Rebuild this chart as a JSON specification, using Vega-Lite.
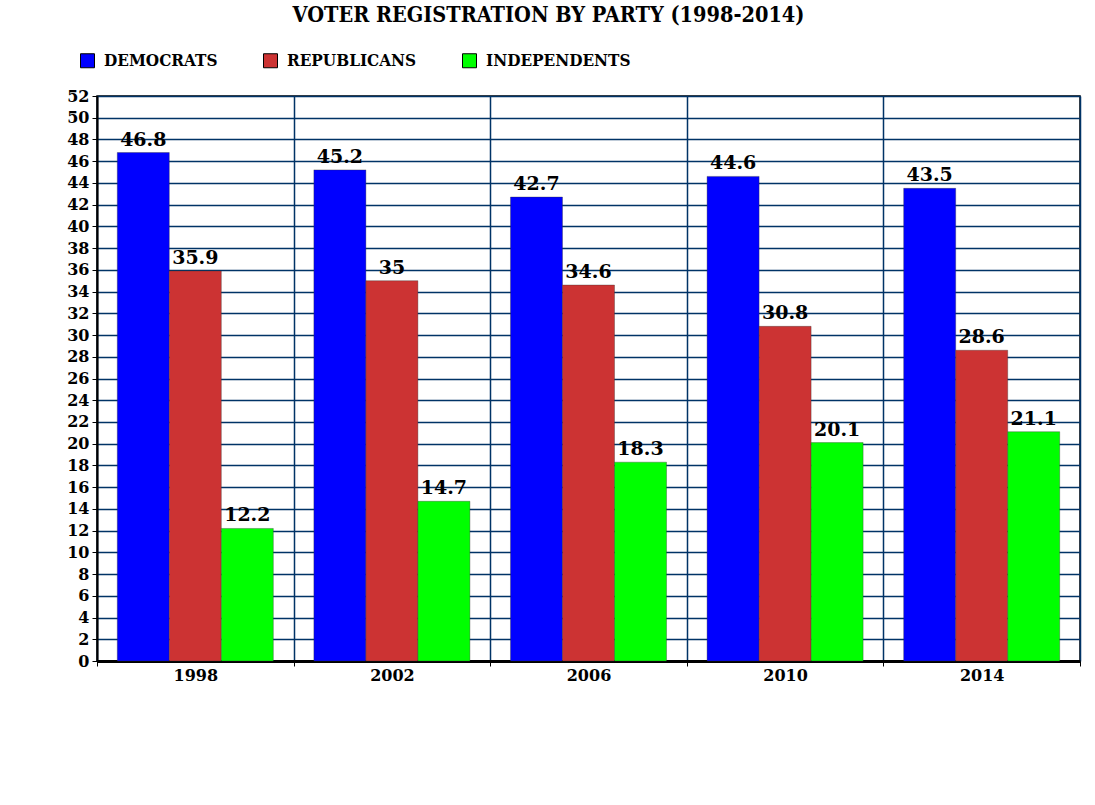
{
  "$schema": "https://vega.github.io/schema/vega-lite/v6.json",
  "width": 983,
  "height": 565,
  "autosize": {"type": "none"},
  "padding": {"left": 97, "top": 96, "right": 15, "bottom": 144},
  "background": "white",
  "title": {
    "text": "VOTER REGISTRATION BY PARTY (1998-2014)",
    "font": "DejaVu Serif Condensed",
    "fontSize": 21.5,
    "fontWeight": "bold",
    "color": "black",
    "anchor": "middle",
    "dx": -40,
    "offset": 26
  },
  "config": {
    "view": {"stroke": "black", "strokeWidth": 1.5},
    "font": "DejaVu Serif"
  },
  "data": {
    "values": [
      {"year": "1998", "party": "DEMOCRATS", "value": 46.8},
      {"year": "1998", "party": "REPUBLICANS", "value": 35.9},
      {"year": "1998", "party": "INDEPENDENTS", "value": 12.2},
      {"year": "2002", "party": "DEMOCRATS", "value": 45.2},
      {"year": "2002", "party": "REPUBLICANS", "value": 35},
      {"year": "2002", "party": "INDEPENDENTS", "value": 14.7},
      {"year": "2006", "party": "DEMOCRATS", "value": 42.7},
      {"year": "2006", "party": "REPUBLICANS", "value": 34.6},
      {"year": "2006", "party": "INDEPENDENTS", "value": 18.3},
      {"year": "2010", "party": "DEMOCRATS", "value": 44.6},
      {"year": "2010", "party": "REPUBLICANS", "value": 30.8},
      {"year": "2010", "party": "INDEPENDENTS", "value": 20.1},
      {"year": "2014", "party": "DEMOCRATS", "value": 43.5},
      {"year": "2014", "party": "REPUBLICANS", "value": 28.6},
      {"year": "2014", "party": "INDEPENDENTS", "value": 21.1}
    ]
  },
  "encoding": {
    "x": {
      "field": "year",
      "type": "nominal",
      "scale": {"paddingInner": 0, "paddingOuter": 0},
      "axis": {
        "title": null,
        "labelAngle": 0,
        "labelFont": "DejaVu Serif",
        "labelFontWeight": "bold",
        "labelFontSize": 16,
        "labelColor": "black",
        "labelPadding": 1,
        "tickBand": "extent",
        "tickColor": "black",
        "tickSize": 5,
        "domainColor": "black",
        "domainWidth": 3,
        "grid": true,
        "gridColor": "#003366",
        "gridWidth": 1.5
      }
    },
    "xOffset": {
      "field": "party",
      "type": "nominal",
      "sort": ["DEMOCRATS", "REPUBLICANS", "INDEPENDENTS"],
      "scale": {"paddingInner": 0, "paddingOuter": 0.39}
    },
    "y": {
      "field": "value",
      "type": "quantitative",
      "scale": {"domain": [0, 52], "nice": false},
      "axis": {
        "title": null,
        "values": [0,2,4,6,8,10,12,14,16,18,20,22,24,26,28,30,32,34,36,38,40,42,44,46,48,50,52],
        "labelFont": "DejaVu Serif",
        "labelFontWeight": "bold",
        "labelFontSize": 16,
        "labelColor": "black",
        "labelPadding": 3,
        "tickColor": "black",
        "tickSize": 5,
        "domainColor": "black",
        "domainWidth": 2,
        "gridColor": "#003366",
        "gridWidth": 1.5
      }
    }
  },
  "layer": [
    {
      "mark": {"type": "bar", "stroke": "#333333", "strokeWidth": 0.6, "strokeOpacity": 0.6},
      "encoding": {
        "color": {
          "field": "party",
          "type": "nominal",
          "sort": ["DEMOCRATS", "REPUBLICANS", "INDEPENDENTS"],
          "scale": {
            "domain": ["DEMOCRATS", "REPUBLICANS", "INDEPENDENTS"],
            "range": ["#0000FF", "#CC3333", "#00FF00"]
          },
          "legend": {
            "title": null,
            "orient": "none",
            "legendX": -18,
            "legendY": -44,
            "direction": "horizontal",
            "symbolType": "square",
            "symbolSize": 196,
            "symbolStrokeColor": "black",
            "symbolStrokeWidth": 1,
            "symbolOpacity": 1,
            "labelFont": "DejaVu Serif Condensed",
            "labelFontWeight": "bold",
            "labelFontSize": 17,
            "labelColor": "black",
            "labelOffset": 8,
            "columnPadding": 43,
            "labelLimit": 300
          }
        }
      }
    },
    {
      "mark": {
        "type": "text",
        "baseline": "bottom",
        "dy": -3,
        "font": "DejaVu Serif",
        "fontWeight": "bold",
        "fontSize": 19,
        "color": "black"
      },
      "encoding": {
        "text": {"field": "value", "type": "quantitative"}
      }
    }
  ]
}
